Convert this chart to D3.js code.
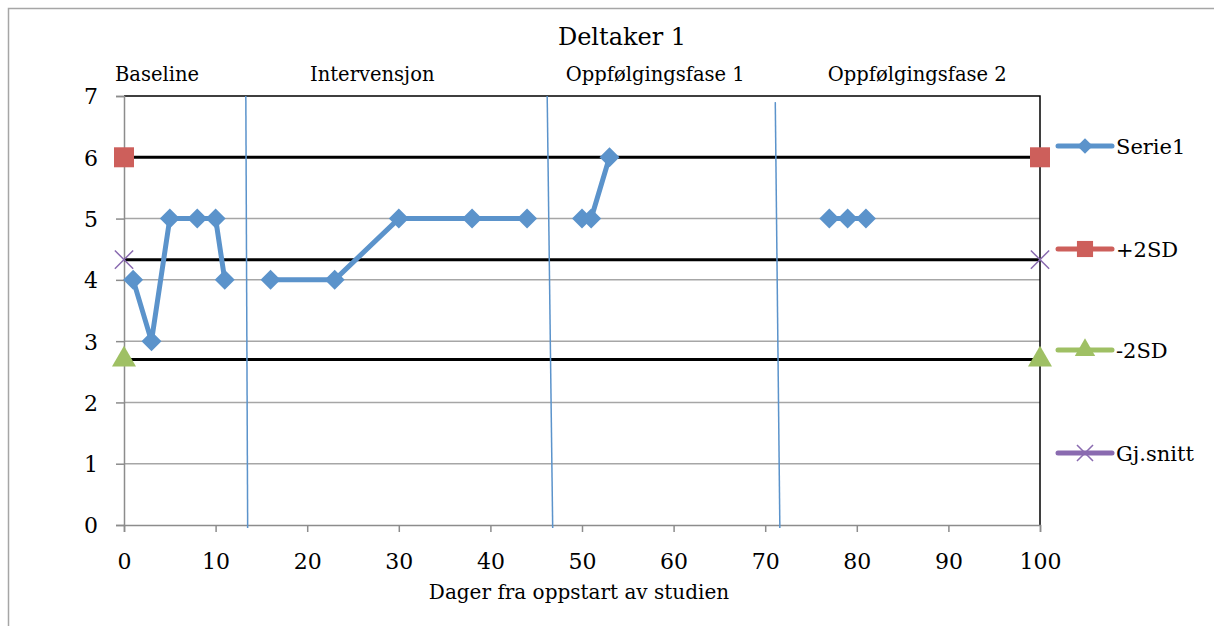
<!DOCTYPE html>
<html>
<head>
<meta charset="utf-8">
<script src="https://cdn.jsdelivr.net/npm/d3@7"></script>
<style>
  body { margin: 0; background: #fff; }
  text { font-family: "DejaVu Serif", serif; fill: #000; }
</style>
</head>
<body>
<div id="graph"></div>
<script>
// data
const days =   [1, 3, 5, 8, 10, 11, null, 16, 23, 30, 38, 44, null, 50, 51, 53, null, 77, 79, 81];
const serie1 = [4, 3, 5, 5, 5, 4, null, 4, 4, 5, 5, 5, null, 5, 5, 6, null, 5, 5, 5];
const plus2sd = 6;
const minus2sd = 2.7;
const mean = 4.33;
const refDays = [0, 100];
const phaseNames = ["Baseline", "Intervensjon", "Oppfølgingsfase 1", "Oppfølgingsfase 2"];
const phaseLabelX = [3.6, 27.1, 58.0, 86.6];
// phase dividers, drawn by hand in the original so slightly slanted
const phaseTop = [13.3, 46.2, 71.1];
const phaseTopY = [7, 7, 6.9];
const phaseBottom = [13.5, 46.8, 71.6];
const xTicks = [0, 10, 20, 30, 40, 50, 60, 70, 80, 90, 100];
const yTicks = [0, 1, 2, 3, 4, 5, 6, 7];
const legendNames = ["Serie1", "+2SD", "-2SD", "Gj.snitt"];

const blue = "#5b93cb", red = "#cd5f5b", green = "#9fc064", purple = "#8a6bb0";

let svg = d3.select("#graph").append("svg")
  .attr("width", 1214)
  .attr("height", 626);

// outer frame
svg.append("path")
  .attr("d", "M8.5,626 V8.5 H1214")
  .attr("fill", "none")
  .attr("stroke", "#a6a6a6")
  .attr("stroke-width", 1.5);

let xScale = d3.scaleLinear().domain([0, 100]).range([124, 1040]);
let yScale = d3.scaleLinear().domain([0, 7]).range([525, 96]);

// gridlines
svg.append("g")
  .selectAll("line")
  .data(yTicks.slice(1, -1))
  .enter().append("line")
  .attr("x1", xScale(0)).attr("x2", xScale(100))
  .attr("y1", d => yScale(d)).attr("y2", d => yScale(d))
  .attr("stroke", "#a6a6a6")
  .attr("stroke-width", 1.5);

// plot border top and right
svg.append("path")
  .attr("d", `M${xScale(0)},${yScale(7)} H${xScale(100)} V${yScale(0)}`)
  .attr("fill", "none")
  .attr("stroke", "#000")
  .attr("stroke-width", 1.5);

// axes
let yAxis = d3.axisLeft(yScale).tickValues(yTicks).tickFormat(d3.format("d")).tickSize(8).tickPadding(18);
let xAxis = d3.axisBottom(xScale).tickValues(xTicks).tickFormat(d3.format("d")).tickSize(7).tickPadding(29);

let gy = svg.append("g").attr("transform", `translate(${xScale(0)},0)`).call(yAxis);
let gx = svg.append("g").attr("transform", `translate(0,${yScale(0)})`).call(xAxis);
[gx, gy].forEach(g => {
  g.select(".domain").attr("stroke", "#8c8c8c").attr("stroke-width", 1.5);
  g.selectAll(".tick line").attr("stroke", "#8c8c8c").attr("stroke-width", 1.5);
  g.selectAll("text").style("font-family", "DejaVu Serif").style("font-size", "22px").attr("fill", "#000");
});
gy.selectAll("text").attr("dy", "0.36em");
gx.selectAll("text").attr("dy", "0.36em");

// reference lines
[plus2sd, minus2sd, mean].forEach(v => {
  svg.append("line")
    .attr("x1", xScale(0)).attr("x2", xScale(100))
    .attr("y1", yScale(v)).attr("y2", yScale(v))
    .attr("stroke", "#000")
    .attr("stroke-width", 3);
});

// phase dividers
svg.append("g")
  .selectAll("line")
  .data(phaseTop)
  .enter().append("line")
  .attr("x1", (d, i) => xScale(d))
  .attr("y1", (d, i) => yScale(phaseTopY[i]))
  .attr("x2", (d, i) => xScale(phaseBottom[i]))
  .attr("y2", yScale(0) + 3)
  .attr("stroke", "#5b93cb")
  .attr("stroke-width", 1.5);

// Serie1
let pts = days.map((d, i) => ({x: d, y: serie1[i]}));
let line = d3.line()
  .defined(d => d.x !== null)
  .x(d => xScale(d.x))
  .y(d => yScale(d.y));

svg.append("path")
  .datum(pts)
  .attr("d", line)
  .attr("fill", "none")
  .attr("stroke", blue)
  .attr("stroke-width", 5)
  .attr("stroke-linejoin", "round");

const diamond = d3.symbol().type(d3.symbolSquare).size(200);
svg.append("g")
  .selectAll("path")
  .data(pts.filter(d => d.x !== null))
  .enter().append("path")
  .attr("d", diamond)
  .attr("transform", d => `translate(${xScale(d.x)},${yScale(d.y)}) rotate(45)`)
  .attr("fill", blue);

// reference markers
const square = d3.symbol().type(d3.symbolSquare).size(400);
const triangle = d3.symbol().type(d3.symbolTriangle).size(250);
const cross = d3.symbol().type(d3.symbolX).size(220);

function markers(sym, v, fill, stroke) {
  svg.append("g")
    .selectAll("path")
    .data(refDays)
    .enter().append("path")
    .attr("d", sym)
    .attr("transform", d => `translate(${xScale(d)},${yScale(v)})`)
    .attr("fill", fill)
    .attr("stroke", stroke)
    .attr("stroke-width", stroke === "none" ? 0 : 1.5);
}
markers(square, plus2sd, red, "none");
markers(triangle, minus2sd, green, "none");
markers(cross, mean, "none", purple);

// phase labels
svg.append("g")
  .selectAll("text")
  .data(phaseNames)
  .enter().append("text")
  .attr("x", (d, i) => xScale(phaseLabelX[i]))
  .attr("y", 81)
  .attr("text-anchor", "middle")
  .style("font-size", "19.5px")
  .text(d => d);

// title
svg.append("text")
  .attr("x", 622).attr("y", 45)
  .attr("text-anchor", "middle")
  .style("font-size", "24px")
  .text("Deltaker 1");

// axis title
svg.append("text")
  .attr("x", 579).attr("y", 599)
  .attr("text-anchor", "middle")
  .style("font-size", "20px")
  .text("Dager fra oppstart av studien");

// legend
const legendY = [146, 249, 350, 453];
const legendColor = [blue, red, green, purple];
const legendSym = [d3.symbol().type(d3.symbolSquare).size(120), d3.symbol().type(d3.symbolSquare).size(260),
  d3.symbol().type(d3.symbolTriangle).size(180), d3.symbol().type(d3.symbolX).size(170)];

let lg = svg.append("g")
  .selectAll("g")
  .data(legendNames)
  .enter().append("g")
  .attr("transform", (d, i) => `translate(1058,${legendY[i]})`);

lg.append("line")
  .attr("x1", 0).attr("x2", 54)
  .attr("stroke", (d, i) => legendColor[i])
  .attr("stroke-width", 5)
  .attr("stroke-linecap", "round");

lg.append("path")
  .attr("d", (d, i) => legendSym[i]())
  .attr("transform", (d, i) => `translate(27,0)` + (i === 0 ? " rotate(45)" : ""))
  .attr("fill", (d, i) => i === 3 ? "none" : legendColor[i])
  .attr("stroke", (d, i) => i === 3 ? legendColor[i] : "none")
  .attr("stroke-width", 1.5);

lg.append("text")
  .attr("x", 58)
  .attr("dy", "0.36em")
  .style("font-size", "21px")
  .text(d => d);
</script>
</body>
</html>
